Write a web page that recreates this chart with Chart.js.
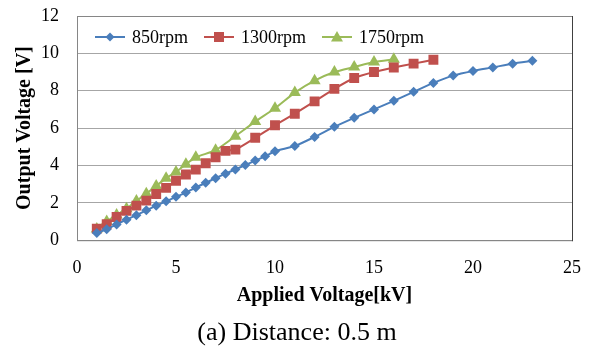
<!DOCTYPE html>
<html>
<head>
<meta charset="utf-8">
<script src="https://cdn.jsdelivr.net/npm/chart.js@4.4.1/dist/chart.umd.min.js"></script>
<style>
  html, body { margin: 0; padding: 0; background: #fff; }
</style>
</head>
<body>
<canvas id="chart" width="592" height="351"></canvas>
<script>
const X_TICKS = [0, 5, 10, 15, 20, 25];
const Y_TICKS = [0, 2, 4, 6, 8, 10, 12];

const SERIES_LABELS = ['850rpm', '1300rpm', '1750rpm'];
const SERIES_COLORS = ['#4a7ebb', '#c0504d', '#9bbb59'];

// applied voltage [kV] / output voltage [V]
const rpm850X = [1, 1.5, 2, 2.5, 3, 3.5, 4, 4.5, 5, 5.5, 6, 6.5, 7, 7.5, 8, 8.5, 9, 9.5, 10,
    11, 12, 13, 14, 15, 16, 17, 18, 19, 20, 21, 22, 23];
const rpm850Y = [0.38, 0.58, 0.84, 1.1, 1.34, 1.6, 1.85, 2.08, 2.32, 2.55, 2.82, 3.07, 3.32, 3.56, 3.79, 4.02, 4.26, 4.49, 4.76,
    5.04, 5.53, 6.07, 6.55, 7.0, 7.46, 7.94, 8.42, 8.81, 9.06, 9.25, 9.45, 9.6];

const rpm1300X = [1, 1.5, 2, 2.5, 3, 3.5, 4, 4.5, 5, 5.5, 6, 6.5, 7, 7.5, 8,
    9, 10, 11, 12, 13, 14, 15, 16, 17, 18];
const rpm1300Y = [0.62, 0.85, 1.24, 1.57, 1.85, 2.12, 2.47, 2.8, 3.18, 3.52, 3.78, 4.12, 4.44, 4.78, 4.85,
    5.48, 6.15, 6.77, 7.43, 8.1, 8.68, 9.0, 9.24, 9.45, 9.66];

const rpm1750X = [1, 1.5, 2, 2.5, 3, 3.5, 4, 4.5, 5, 5.5, 6,
    7, 8, 9, 10, 11, 12, 13, 14, 15, 16];
const rpm1750Y = [0.6, 1.0, 1.35, 1.69, 2.1, 2.49, 2.9, 3.32, 3.65, 4.07, 4.44,
    4.82, 5.57, 6.35, 7.06, 7.9, 8.54, 9.0, 9.27, 9.54, 9.68];

const FONT = "'Liberation Serif', 'Times New Roman', serif";
Chart.defaults.font.family = FONT;
Chart.defaults.color = '#000';

const POINT_STYLES = ['rectRot', 'rect', 'triangle'];
const POINT_RADII = [5, 7, 7];

const toPoints = (xs, ys) => xs.map((x, i) => ({ x: x, y: ys[i] }));

const makeDataset = (i, xs, ys) => ({
    label: SERIES_LABELS[i],
    data: toPoints(xs, ys),
    borderColor: SERIES_COLORS[i],
    backgroundColor: SERIES_COLORS[i],
    borderWidth: 2,
    pointStyle: POINT_STYLES[i],
    pointRadius: POINT_RADII[i],
    pointBorderWidth: 0,
    pointBackgroundColor: SERIES_COLORS[i],
    tension: 0.2,
});

// marker shapes for the legend (same look as the chart markers)
const drawMarker = (ctx, style, cx, cy) => {
    ctx.beginPath();
    if (style === 'rectRot') {
        ctx.moveTo(cx, cy - 4.5);
        ctx.lineTo(cx + 4.5, cy);
        ctx.lineTo(cx, cy + 4.5);
        ctx.lineTo(cx - 4.5, cy);
    } else if (style === 'rect') {
        ctx.rect(cx - 5, cy - 5, 10, 10);
    } else {
        ctx.moveTo(cx, cy - 6);
        ctx.lineTo(cx + 6, cy + 4.5);
        ctx.lineTo(cx - 6, cy + 4.5);
    }
    ctx.closePath();
    ctx.fill();
};

// spreadsheet style legend sitting inside the plot, in one row
const rowLegend = {
    id: 'rowLegend',
    afterDatasetsDraw(chart) {
        const { ctx, chartArea: a } = chart;
        const y = a.top + 21;
        let x = a.left + 18;
        ctx.save();
        ctx.font = "18px " + FONT;
        ctx.textBaseline = 'middle';
        ctx.textAlign = 'left';
        chart.data.datasets.forEach((ds, i) => {
            ctx.strokeStyle = ds.borderColor;
            ctx.fillStyle = ds.borderColor;
            ctx.lineWidth = 2;
            ctx.beginPath();
            ctx.moveTo(x, y);
            ctx.lineTo(x + 30, y);
            ctx.stroke();
            drawMarker(ctx, ds.pointStyle, x + 15, y);
            ctx.fillStyle = '#000';
            ctx.fillText(ds.label, x + 37, y + 1);
            x += 37 + ctx.measureText(ds.label).width + 16;
        });
        ctx.restore();
    },
};

// frame round the plot, darker on the right like the source
const plotFrame = {
    id: 'plotFrame',
    beforeDatasetsDraw(chart) {
        const { ctx, chartArea: a } = chart;
        ctx.save();
        ctx.lineWidth = 1;
        ctx.strokeStyle = '#868686';
        ctx.strokeRect(a.left + 0.5, a.top + 0.5, a.right - a.left, a.bottom - a.top);
        ctx.strokeStyle = '#404040';
        ctx.beginPath();
        ctx.moveTo(a.right + 0.5, a.top);
        ctx.lineTo(a.right + 0.5, a.bottom + 1);
        ctx.stroke();
        ctx.restore();
    },
};

// caption sits a little right of the canvas centre in the source
const nudge = {
    id: 'nudge',
    afterLayout(chart) {
        if (chart.titleBlock) {
            chart.titleBlock.left += 7;
            chart.titleBlock.right += 7;
        }
    },
};

// drop the extra label padding chart.js reserves round the plot
const noLabelPadding = (scale) => {
    scale.paddingTop = 0;
    scale.paddingBottom = 0;
    scale.paddingLeft = 0;
    scale.paddingRight = 0;
};

const el = document.getElementById('chart');
new Chart(el, {
    type: 'line',
    data: {
        datasets: [
            makeDataset(0, rpm850X, rpm850Y),
            makeDataset(1, rpm1300X, rpm1300Y),
            makeDataset(2, rpm1750X, rpm1750Y),
        ],
    },
    options: {
        responsive: false,
        devicePixelRatio: 1,
        animation: false,
        layout: { padding: { left: 8, right: 20, top: 16, bottom: 2 } },
        plugins: {
            legend: { display: false },
            title: {
                display: true,
                position: 'bottom',
                text: '(a) Distance: 0.5 m',
                color: '#000',
                font: { size: 26, weight: 'normal' },
                padding: { top: 9, bottom: 0 },
            },
            tooltip: { enabled: false },
        },
        scales: {
            x: {
                type: 'linear',
                min: X_TICKS[0],
                max: X_TICKS[X_TICKS.length - 1],
                afterBuildTicks: (axis) => { axis.ticks = X_TICKS.map((v) => ({ value: v })); },
                afterFit: noLabelPadding,
                ticks: { padding: 17, font: { size: 18 }, color: '#000' },
                grid: { drawOnChartArea: false, drawTicks: false },
                border: { color: '#868686' },
                title: {
                    display: true,
                    text: 'Applied Voltage[kV]',
                    color: '#000',
                    font: { size: 20, weight: 'bold' },
                    padding: { top: -12, bottom: 1 },
                },
            },
            y: {
                min: Y_TICKS[0],
                max: Y_TICKS[Y_TICKS.length - 1],
                afterBuildTicks: (axis) => { axis.ticks = Y_TICKS.map((v) => ({ value: v })); },
                afterFit: noLabelPadding,
                ticks: { padding: 18, font: { size: 18 }, color: '#000' },
                grid: { color: '#a6a6a6', drawTicks: false },
                border: { color: '#868686' },
                title: {
                    display: true,
                    text: 'Output Voltage [V]',
                    color: '#000',
                    font: { size: 20, weight: 'bold' },
                    padding: { top: 5, bottom: -14 },
                },
            },
        },
    },
    plugins: [plotFrame, rowLegend, nudge],
});
</script>
</body>
</html>
